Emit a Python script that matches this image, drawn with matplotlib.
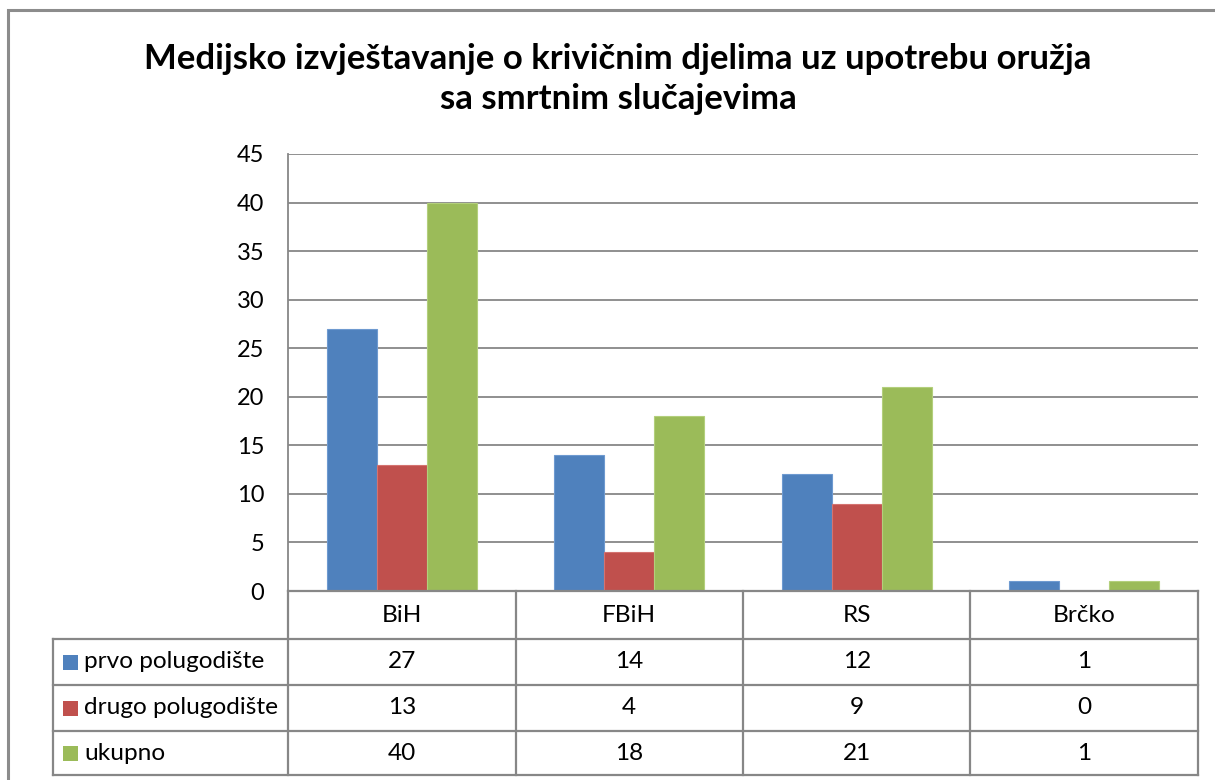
import matplotlib
matplotlib.use("Agg")
import matplotlib.pyplot as plt
from matplotlib.lines import Line2D
from matplotlib.patches import Rectangle
from matplotlib.transforms import blended_transform_factory
import numpy as np

plt.rcParams['font.family'] = ['Lato', 'DejaVu Sans']

title = "Medijsko izvještavanje o krivičnim djelima uz upotrebu oružja\nsa smrtnim slučajevima"
categories = ["BiH", "FBiH", "RS", "Brčko"]
series_names = ["prvo polugodište", "drugo polugodište", "ukupno"]
prvo = [27, 14, 12, 1]
drugo = [13, 4, 9, 0]
ukupno = [40, 18, 21, 1]
series_values = [prvo, drugo, ukupno]
colors = ["#4F81BD", "#C0504D", "#9BBB59"]
edge_colors = ["#6E9AD0", "#D47370", "#B3CF7C"]
yticks = list(range(0, 46, 5))

W, H = 1215, 780
fig = plt.figure(figsize=(W / 100, H / 100), dpi=100)

def fx(px):
    return px / W

def fy(py):
    return 1 - py / H

GRID = "#878787"
FS = 17
TFS = 17.6

# Outer chart border
fig.add_artist(Rectangle((fx(8), fy(800)), fx(1230) - fx(8), fy(10) - fy(800),
                         transform=fig.transFigure, fill=False, edgecolor="#8C8C8C", lw=2.2))

ax_left, ax_right, ax_top, ax_bot = 288, 1198, 154, 591
ax = fig.add_axes([fx(ax_left), fy(ax_bot), fx(ax_right) - fx(ax_left), fy(ax_top) - fy(ax_bot)])

n = len(categories)
x = np.arange(n)
bw = 0.22
offsets = [-bw, 0, bw]
for vals, off, c, ec in zip(series_values, offsets, colors, edge_colors):
    ax.bar(x + off, vals, width=bw, color=c, edgecolor=ec, linewidth=0.8, zorder=3)

ax.set_xlim(-0.5, n - 0.5)
ax.set_ylim(0, 45)
ax.set_yticks(yticks)
ax.set_yticklabels([str(t) for t in yticks], fontsize=FS)
ax.tick_params(axis='y', length=0, pad=17)
ax.set_xticks([])
ax.yaxis.grid(True, color=GRID, lw=1.3, zorder=0)
for s in ["top", "right", "bottom"]:
    ax.spines[s].set_visible(False)
ax.spines["left"].set_color(GRID)
ax.spines["left"].set_linewidth(1.3)

fig.suptitle(title, x=fx(618), y=fy(43), fontsize=25, fontweight='bold', va='top', linespacing=1.32)

# Data table
row_y = [591, 639, 685, 731, 775]
tab_left = 53
col_x = [ax_left + (ax_right - ax_left) * i / n for i in range(n + 1)]

def hline(x0, x1, y):
    fig.add_artist(Line2D([fx(x0), fx(x1)], [fy(y), fy(y)], transform=fig.transFigure,
                          color=GRID, lw=1.6, zorder=5))

def vline(x, y0, y1):
    fig.add_artist(Line2D([fx(x), fx(x)], [fy(y0), fy(y1)], transform=fig.transFigure,
                          color=GRID, lw=1.6, zorder=5))

hline(ax_left, ax_right, row_y[0])
for yy in row_y[1:]:
    hline(tab_left, ax_right, yy)
vline(ax_left, ax_bot, row_y[-1])
for cx in col_x[1:]:
    vline(cx, row_y[0], row_y[-1])
vline(tab_left, row_y[1], row_y[-1])

trans = blended_transform_factory(ax.transData, fig.transFigure)
for i, cat in enumerate(categories):
    ax.text(i, fy((row_y[0] + row_y[1]) / 2), cat, transform=trans, ha='center', va='center',
            fontsize=TFS, clip_on=False)

for r, (name, vals, c) in enumerate(zip(series_names, series_values, colors)):
    yc = (row_y[r + 1] + row_y[r + 2]) / 2
    fig.add_artist(Rectangle((fx(63), fy(yc + 7.5)), fx(78) - fx(63), fy(yc - 7.5) - fy(yc + 7.5),
                             transform=fig.transFigure, facecolor=c, edgecolor='none'))
    fig.text(fx(84), fy(yc), name, ha='left', va='center', fontsize=TFS)
    for i, v in enumerate(vals):
        ax.text(i, fy(yc), str(v), transform=trans, ha='center', va='center', fontsize=TFS, clip_on=False)

fig.savefig("out.png", dpi=100)
